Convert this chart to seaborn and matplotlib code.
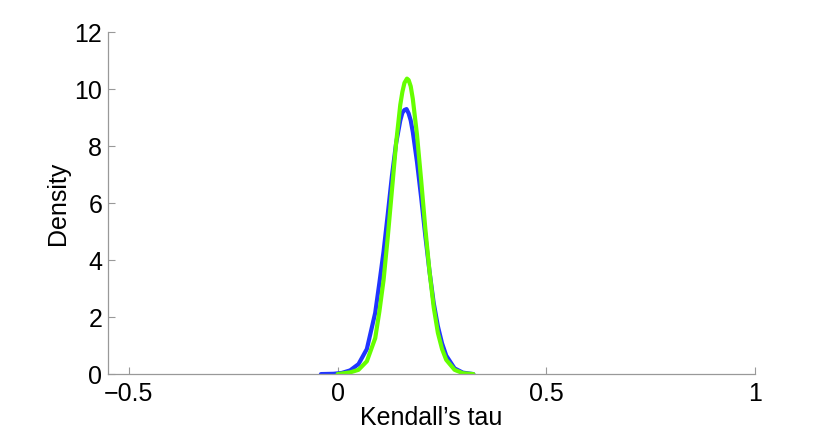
import matplotlib
matplotlib.use("Agg")
import matplotlib.pyplot as plt
import seaborn as sns
import pandas as pd

# density curves (Kendall's tau vs density)
blue_tau = [-0.04, -0.01, 0.01, 0.03, 0.05, 0.07, 0.09, 0.10, 0.11, 0.12, 0.13, 0.14, 0.15,
            0.155, 0.16, 0.165, 0.17, 0.175, 0.18, 0.19, 0.20, 0.21, 0.22, 0.23, 0.24, 0.25,
            0.26, 0.28, 0.30, 0.325]
blue_density = [0.0, 0.01, 0.04, 0.13, 0.35, 0.88, 2.15, 3.2, 4.3, 5.6, 6.95, 8.1, 8.9,
                9.17, 9.27, 9.3, 9.15, 8.9, 8.5, 7.45, 6.2, 4.85, 3.6, 2.5, 1.68, 1.08,
                0.65, 0.2, 0.05, 0.0]

green_tau = [0.0, 0.03, 0.05, 0.07, 0.09, 0.10, 0.11, 0.12, 0.13, 0.14, 0.15, 0.155, 0.16,
             0.166, 0.17, 0.175, 0.18, 0.19, 0.20, 0.21, 0.22, 0.23, 0.24, 0.25, 0.26, 0.28,
             0.30, 0.325]
green_density = [0.0, 0.06, 0.15, 0.45, 1.26, 2.2, 3.3, 4.8, 6.45, 8.1, 9.45, 9.9, 10.22,
                 10.37, 10.32, 10.1, 9.66, 8.4, 6.8, 5.1, 3.6, 2.35, 1.45, 0.88, 0.5, 0.15,
                 0.03, 0.0]

x_ticks = [-0.5, 0, 0.5, 1]
y_ticks = [0, 2, 4, 6, 8, 10, 12]

df = pd.concat([
    pd.DataFrame({"tau": blue_tau, "density": blue_density, "series": "a"}),
    pd.DataFrame({"tau": green_tau, "density": green_density, "series": "b"}),
])

sns.set_style("ticks")
plt.rcParams["font.family"] = ["Liberation Sans", "DejaVu Sans"]
plt.rcParams["axes.unicode_minus"] = True

fig = plt.figure(figsize=(8.3, 4.29), dpi=100)
ax = fig.add_axes([0.130, 0.128, 0.780, 0.797])

sns.lineplot(data=df, x="tau", y="density", hue="series", sort=False,
             palette={"a": "#2035ff", "b": "#66ff00"}, linewidth=3.0,
             solid_joinstyle="round", solid_capstyle="round",
             legend=False, ax=ax)

ax.set_xlim(-0.55, 1)
ax.set_ylim(0, 12)
ax.set_xticks(x_ticks)
ax.set_xticklabels(["\u22120.5", "0", "0.5", "1"])
ax.set_yticks(y_ticks)
ax.set_xlabel("Kendall\u2019s tau", fontsize=18, labelpad=0, color="black")
ax.set_ylabel("Density", fontsize=18, labelpad=3, color="black")
ax.tick_params(direction="in", length=5, width=0.8, color="#999999",
               labelsize=18, labelcolor="black")
ax.tick_params(axis="x", pad=6)
ax.tick_params(axis="y", pad=4)
for side in ["top", "right"]:
    ax.spines[side].set_visible(False)
for side in ["left", "bottom"]:
    ax.spines[side].set_color("#999999")
    ax.spines[side].set_linewidth(0.9)

fig.savefig("out.png", dpi=100)
